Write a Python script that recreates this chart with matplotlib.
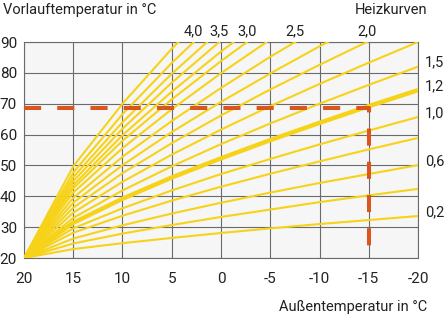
import numpy as np
import matplotlib.pyplot as plt

plt.rcParams['font.family'] = ['Roboto', 'DejaVu Sans']
plt.rcParams['axes.unicode_minus'] = False

# outdoor temperature grid (°C) and flow temperature of each heating curve
outdoor = [20, 15, 10, 5, 0, -5, -10, -15, -20]

slopes = ['0,2', '0,4', '0,6', '0,8', '1,0', '1,2', '1,5', '1,75', '2,0',
          '2,25', '2,5', '2,75', '3,0', '3,25', '3,5', '3,75', '4,0', '4,25']
flow = [
    [20, 22.9, 24.8, 26.5, 28.1, 29.6, 31.0, 32.3, 33.6],
    [20, 24.7, 27.9, 30.7, 33.3, 35.7, 38.1, 40.3, 42.4],
    [20, 26.3, 30.6, 34.4, 37.9, 41.2, 44.3, 47.2, 50.1],
    [20, 28.2, 33.7, 38.6, 43.1, 47.3, 51.3, 55.2, 58.9],
    [20, 29.6, 36.1, 41.9, 47.2, 52.1, 56.8, 61.3, 65.7],
    [20, 31.4, 39.2, 46.1, 52.3, 58.2, 63.8, 69.2, 74.4],
    [20, 33.0, 41.9, 49.7, 56.9, 63.6, 70.0, 76.1, 82.0],
    [20, 34.7, 44.7, 53.5, 61.6, 69.2, 76.4, 83.3, 90.0],
    [20, 36.3, 47.5, 57.2, 66.2, 74.6, 82.6, 90.3, 97.7],
    [20, 37.9, 50.1, 60.8, 70.6, 79.8, 88.6, 97.0],
    [20, 39.5, 52.8, 64.4, 75.1, 85.2, 94.7],
    [20, 41.2, 55.6, 68.2, 79.9, 90.8],
    [20, 42.6, 58.0, 71.4, 83.8, 95.5],
    [20, 43.6, 59.8, 73.9, 86.9, 99.0],
    [20, 44.9, 61.9, 76.8, 90.5],
    [20, 46.2, 64.0, 79.7, 94.0],
    [20, 47.7, 66.6, 83.2, 98.4],
    [20, 49.7, 70.0, 87.8, 104.1],
]

top_labelled = ['4,0', '3,5', '3,0', '2,5', '2,0']
right_labelled = ['1,5', '1,2', '1,0', '0,6', '0,2']
highlight = '1,2'

design_out = -15
design_flow = 68.5

x_ticks = [20, 15, 10, 5, 0, -5, -10, -15, -20]
y_ticks = [20, 30, 40, 50, 60, 70, 80, 90]

yellow = '#f6d318'
orange = '#d9561c'
gridc = '#6a6a6a'
textc = '#222222'

fig = plt.figure(figsize=(4.47, 3.18), dpi=100)
ax = fig.add_axes([24/447, 60/318, 394/447, 216/318])
ax.set_facecolor('#f6f6f6')
ax.set_xlim(20, -20)
ax.set_ylim(20, 90)
ax.set_xticks(x_ticks)
ax.set_xticklabels([str(t) for t in x_ticks])
ax.set_yticks(y_ticks)
ax.grid(color=gridc, lw=0.8)
ax.set_axisbelow(True)
for s in ax.spines.values():
    s.set_color(gridc)
    s.set_linewidth(0.8)
ax.tick_params(length=0, labelsize=11, colors=textc)
ax.tick_params(axis='x', pad=10)
ax.tick_params(axis='y', pad=5)

for name, v in zip(slopes, flow):
    xs = outdoor[:len(v)]
    lw = 3.2 if name == highlight else 1.5
    ax.plot(xs, v, color=yellow, lw=lw, solid_capstyle='butt', zorder=3)
    if name in top_labelled:
        x_exit = np.interp(90, v, xs)
        ax.annotate(name, (x_exit, 90), xytext=(0, 8), textcoords='offset points',
                    ha='center', va='center', fontsize=10.5, color=textc,
                    annotation_clip=False)
    if name in right_labelled:
        ax.annotate(name, (-20, v[-1]), xytext=(5, 3), textcoords='offset points',
                    ha='left', va='center', fontsize=10.5, color=textc,
                    annotation_clip=False)

ax.plot([20, design_out, design_out], [design_flow, design_flow, 20],
        color=orange, lw=2.9, dashes=(4.25, 4.0), zorder=4)

fig.text(3/447, 1 - 10/318, 'Vorlauftemperatur in °C', ha='left', va='center',
         fontsize=10.5, color=textc)
fig.text(427/447, 1 - 10/318, 'Heizkurven', ha='right', va='center',
         fontsize=10.5, color=textc)
fig.text(427/447, 1 - 307/318, 'Außentemperatur in °C', ha='right', va='center',
         fontsize=10.5, color=textc)

fig.savefig('out.png', dpi=100)
